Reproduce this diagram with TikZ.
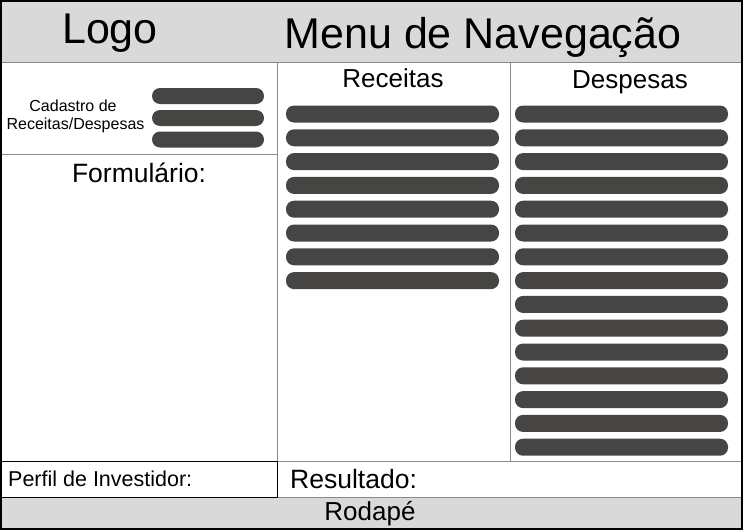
\documentclass[tikz,border=0pt]{standalone}
\usepackage{fontspec}
\setmainfont{Liberation Sans}
\definecolor{hdr}{HTML}{D9D9D9}
\definecolor{pillc}{HTML}{474543}
\definecolor{divc}{HTML}{8A8A8A}
\begin{document}
\begin{tikzpicture}[x=1pt,y=-1pt,
  pill/.style={fill=pillc,draw=none,rounded corners=8pt,minimum height=17pt,inner sep=0pt},
  divline/.style={draw=divc,line width=1pt},
  lbl/.style={inner sep=0pt,text=black,anchor=base}]
\useasboundingbox (0,0) rectangle (743,530);
% header and footer
\fill[hdr] (0,0) rectangle (743,62);
\fill[hdr] (0,497) rectangle (743,530);
\draw[divline] (0,62) -- (743,62);
\draw[divline] (0,497) -- (743,497);
\draw[divline] (0,154) -- (277,154);
\draw[divline] (277,62) -- (277,461);
\draw[divline] (510,62) -- (510,461);
\draw[divline] (277,461) -- (743,461);
\draw[black,line width=1pt] (0.5,461) rectangle (277,497);
\draw[black,line width=2pt] (1,1) rectangle (742,529);
% texts
\node[lbl,font=\fontsize{43}{43}\selectfont] (logo) at (110,43) {Logo};
\node[lbl,font=\fontsize{43}{43}\selectfont] (menu) at (483,48) {Menu de Navegação};
\node[lbl,font=\fontsize{16}{16}\selectfont] (cad1) at (73,111) {Cadastro de};
\node[lbl,font=\fontsize{16}{16}\selectfont] (cad2) at (75.5,129) {Receitas/Despesas};
\node[lbl,font=\fontsize{26.5}{26.5}\selectfont] (form) at (139,182) {Formulário:};
\node[lbl,font=\fontsize{26}{26}\selectfont] (rec) at (393,87) {Receitas};
\node[lbl,font=\fontsize{26}{26}\selectfont] (desp) at (630,88) {Despesas};
\node[lbl,font=\fontsize{21.5}{21.5}\selectfont,anchor=base west] (perfil) at (8,486) {Perfil de Investidor:};
\node[lbl,font=\fontsize{26.5}{26.5}\selectfont,anchor=base west] (res) at (290,488) {Resultado:};
\node[lbl,font=\fontsize{26}{26}\selectfont] (rod) at (370,520) {Rodapé};
% pills
\foreach \i/\y in {1/96,2/118,3/139.5}
  \node[pill,minimum width=112pt,minimum height=16pt] (c\i) at (208,\y) {};
\foreach \i in {0,...,7}
  \node[pill,minimum width=213pt] (r\i) at (392.5,{114+23.8*\i}) {};
\foreach \i in {0,...,14}
  \node[pill,minimum width=213pt] (d\i) at (621.5,{114+23.8*\i}) {};
\end{tikzpicture}
\end{document}
